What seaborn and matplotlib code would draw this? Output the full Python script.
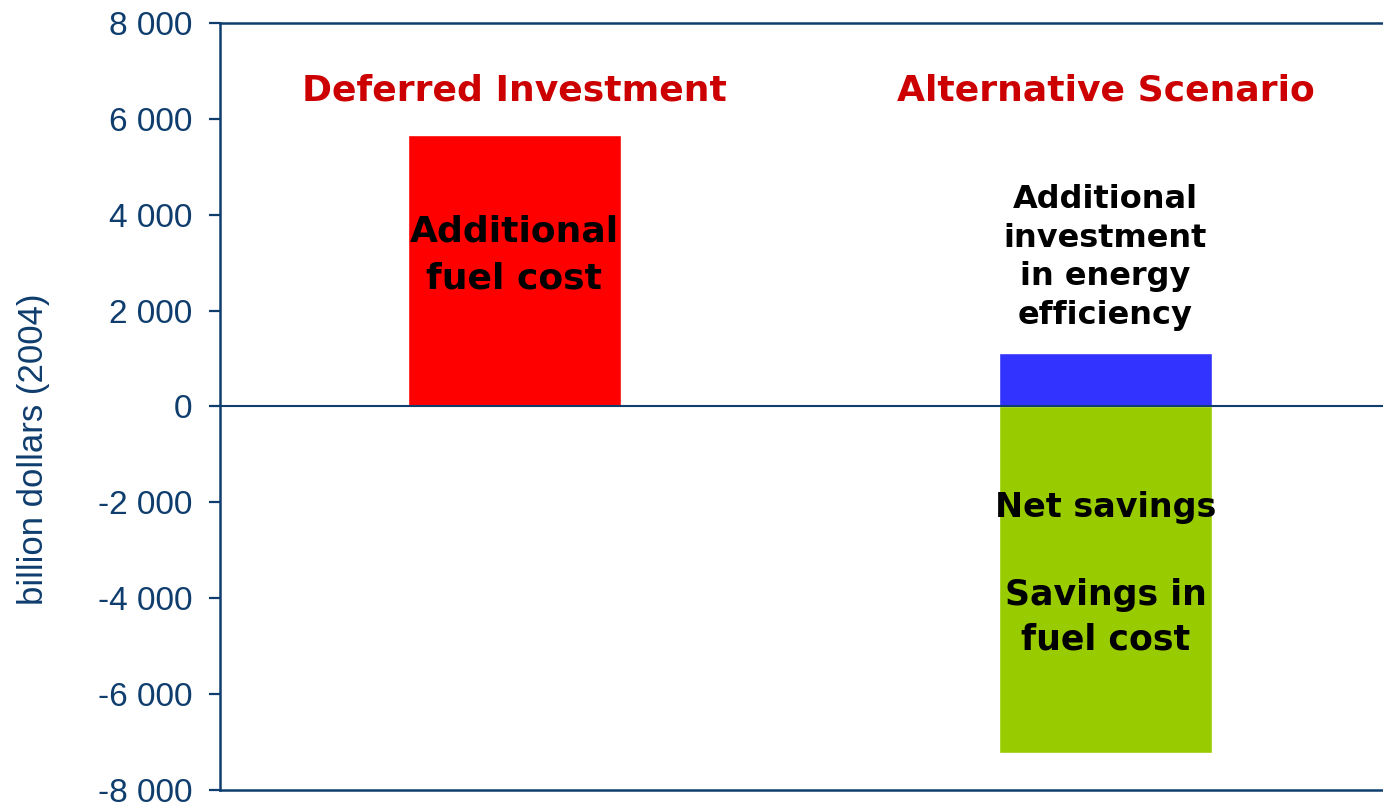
import matplotlib
matplotlib.use("Agg")
import matplotlib.pyplot as plt
import pandas as pd
import seaborn as sns

# Cumulative cost components, billion dollars (2004)
scenarios = ["Deferred Investment", "Alternative Scenario"]
bar_scenarios = ["Deferred Investment", "Alternative Scenario", "Alternative Scenario"]
components = ["Additional fuel cost",
              "Additional investment in energy efficiency",
              "Savings in fuel cost"]
values = [5660, 1120, -7230]
colors = ["#FF0000", "#3333FF", "#99CC00"]

y_ticks = [-8000, -6000, -4000, -2000, 0, 2000, 4000, 6000, 8000]
y_tick_labels = ["-8 000", "-6 000", "-4 000", "-2 000", "0",
                 "2 000", "4 000", "6 000", "8 000"]

df = pd.DataFrame({"scenario": bar_scenarios,
                   "component": components,
                   "value": values})

sns.set_style("white")
plt.rcParams["font.family"] = ["Liberation Sans", "DejaVu Sans"]

axis_blue = "#0E3D6E"
title_red = "#CC0000"
bold_family = ["DejaVu Sans"]

fig = plt.figure(figsize=(13.83, 8.08), dpi=100)
ax = fig.add_axes([0.1591, 0.0223, 0.8409, 0.9493])

sns.barplot(data=df, x="scenario", y="value", hue="component",
            order=scenarios, hue_order=components,
            palette=dict(zip(components, colors)),
            dodge=False, width=0.36, saturation=1,
            legend=False, ax=ax)

ax.set_xlim(-0.498, 1.4695)
ax.set_ylim(-8000, 8000)
ax.set_yticks(y_ticks)
ax.set_yticklabels(y_tick_labels)
ax.set_xticks([])
ax.set_xlabel("")
ax.set_ylabel("billion dollars (2004)", fontsize=25, color=axis_blue)
ax.yaxis.set_label_coords(-0.1608, 0.4446)
ax.yaxis.label.set_verticalalignment("center")

ax.tick_params(axis="y", direction="out", length=8, width=1.6,
               color=axis_blue, labelcolor=axis_blue, labelsize=24, pad=12, left=True)

for side in ["left", "top", "bottom"]:
    ax.spines[side].set_visible(True)
    ax.spines[side].set_color(axis_blue)
    ax.spines[side].set_linewidth(1.8)
ax.spines["right"].set_visible(False)

ax.axhline(0, color=axis_blue, lw=1.5, zorder=1)

# Scenario headings
for i, name in enumerate(scenarios):
    ax.text(i, 6600, name, ha="center", va="center", color=title_red,
            fontsize=26, fontweight="bold", family=bold_family)

# Labels on the bars
ax.text(0, 3160, "Additional\nfuel cost", ha="center", va="center",
        fontsize=26, fontweight="bold", color="black", linespacing=1.45,
        family=bold_family)
ax.text(1, 3110, "Additional\ninvestment\nin energy\nefficiency", ha="center",
        va="center", fontsize=23, fontweight="bold", color="black", linespacing=1.31,
        family=bold_family)
ax.text(1, -2100, "Net savings", ha="center", va="center",
        fontsize=24, fontweight="bold", color="black", family=bold_family)
ax.text(1, -4400, "Savings in\nfuel cost", ha="center", va="center",
        fontsize=25, fontweight="bold", color="black", linespacing=1.38,
        family=bold_family)

fig.savefig("out.png", dpi=100)
